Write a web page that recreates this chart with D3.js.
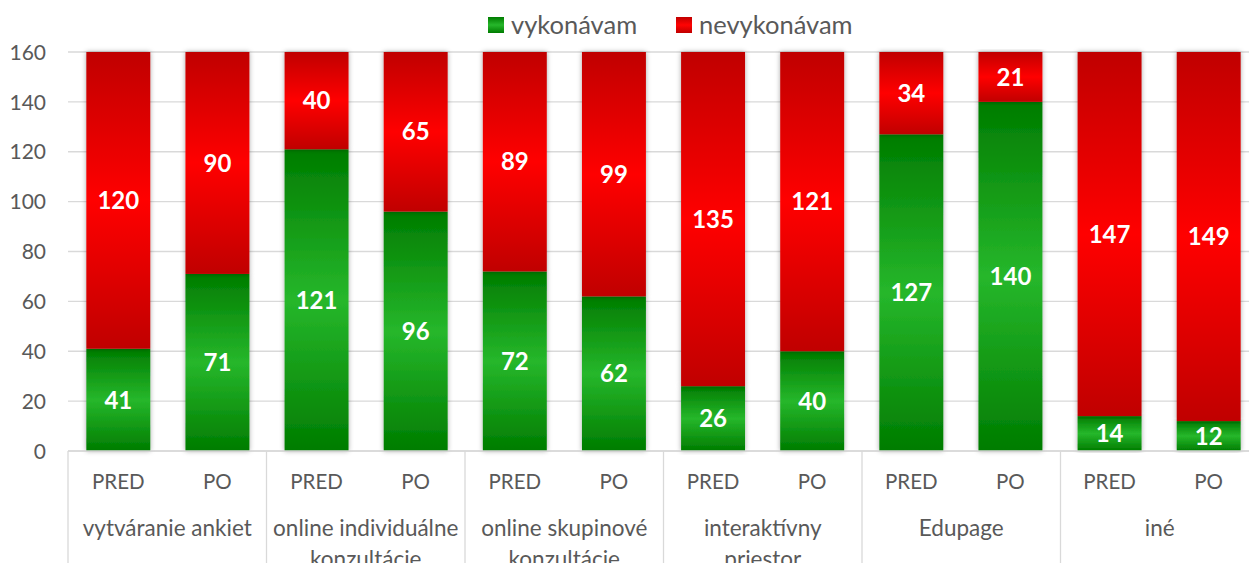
<!DOCTYPE html>
<html><head><meta charset="utf-8">
<script src="https://cdn.jsdelivr.net/npm/d3@7"></script>
<style>body{margin:0;background:#fff;}svg{display:block;font-family:Lato,"Open Sans",sans-serif;}</style>
</head><body>
<svg id="c" width="1249" height="563"></svg>
<script>
const groups = ["vytváranie ankiet", "online individuálne|konzultácie", "online skupinové|konzultácie", "interaktívny|priestor", "Edupage", "iné"];
const phases = ["PRED", "PO"];
const vykonavam = [41, 71, 121, 96, 72, 62, 26, 40, 127, 140, 14, 12];
const nevykonavam = [120, 90, 40, 65, 89, 99, 135, 121, 34, 21, 147, 149];
const yTicks = [0, 20, 40, 60, 80, 100, 120, 140, 160];
const seriesNames = ["vykonávam", "nevykonávam"];

(function(){
const svg = d3.select("#c");
const pLeft = 68, pRight = 1259, pTop = 52, pBottom = 451;
const defs = svg.append("defs");
function grad(id, dark, light){
  const g = defs.append("linearGradient").attr("id", id).attr("x1",0).attr("y1",0).attr("x2",0).attr("y2",1);
  g.append("stop").attr("offset","0%").attr("stop-color",dark);
  g.append("stop").attr("offset","50%").attr("stop-color",light);
  g.append("stop").attr("offset","100%").attr("stop-color",dark);
}
grad("gG", "#007c00", "#26b72b");
grad("gR", "#c00000", "#ff0303");
const f = defs.append("filter").attr("id","sh").attr("x","-20%").attr("y","-5%").attr("width","140%").attr("height","110%");
f.append("feDropShadow").attr("dx",0).attr("dy",0).attr("stdDeviation",2.5).attr("flood-color","#000").attr("flood-opacity",0.35);

const keys = d3.range(vykonavam.length);
const x = d3.scaleBand().domain(keys).range([pLeft, pRight]).paddingInner(0.355).paddingOuter(0.185);
const y = d3.scaleLinear().domain([0,160]).range([pBottom, pTop]).clamp(true);

svg.append("g").selectAll("line").data(yTicks).join("line")
  .attr("x1", pLeft).attr("x2", 1249).attr("y1", d=>y(d)).attr("y2", d=>y(d))
  .attr("stroke", "#d9d9d9").attr("stroke-width", 1.3);

const yAxis = d3.axisLeft(y).tickValues(yTicks).tickSize(0).tickPadding(0);
const ya = svg.append("g").attr("transform", `translate(46,0)`).call(yAxis);
ya.select(".domain").remove();
ya.selectAll("text").attr("font-size", 21).attr("fill", "#595959").attr("font-family","Lato,sans-serif").attr("dy","0.34em");

const segs = [];
keys.forEach(i=>{
  segs.push({i, y0:0, y1:vykonavam[i], v:vykonavam[i], s:0});
  segs.push({i, y0:vykonavam[i], y1:vykonavam[i]+nevykonavam[i], v:nevykonavam[i], s:1});
});
svg.append("g").selectAll("rect").data(segs).join("rect")
  .attr("x", d=>x(d.i)).attr("width", x.bandwidth())
  .attr("y", d=>y(d.y1)).attr("height", d=>y(d.y0)-y(d.y1))
  .attr("fill", d=> d.s===0 ? "url(#gG)" : "url(#gR)")
  .attr("filter","url(#sh)");
svg.append("g").selectAll("text").data(segs).join("text")
  .attr("x", d=>x(d.i)+x.bandwidth()/2)
  .attr("y", d=>(y(d.y0)+y(d.y1))/2)
  .attr("dy","0.36em").attr("text-anchor","middle")
  .attr("font-size", 24).attr("font-weight","bold").attr("fill","#fff")
  .text(d=>d.v);

svg.append("line").attr("x1", pLeft).attr("x2", 1249).attr("y1", pBottom).attr("y2", pBottom).attr("stroke","#d9d9d9").attr("stroke-width",1.3);
const gx = d3.scaleBand().domain(d3.range(groups.length)).range([pLeft, pRight]);
svg.append("g").selectAll("line").data(d3.range(groups.length)).join("line")
  .attr("x1", d=>gx(d)).attr("x2", d=>gx(d)).attr("y1", pBottom).attr("y2", 563)
  .attr("stroke","#d9d9d9").attr("stroke-width",1.3);
svg.append("g").selectAll("text").data(keys).join("text")
  .attr("x", d=>x(d)+x.bandwidth()/2).attr("y", 482).attr("dy","0.35em")
  .attr("text-anchor","middle").attr("font-size",20.5).attr("fill","#595959")
  .text(d=>phases[d%2]);
const gl = svg.append("g").selectAll("text").data(groups).join("text")
  .attr("x", (d,i)=>gx(i)+gx.bandwidth()/2).attr("y", 528)
  .attr("text-anchor","middle").attr("font-size",22.5).attr("fill","#595959");
gl.selectAll("tspan").data(d=>d.split("|")).join("tspan")
  .attr("x", function(){return this.parentNode.getAttribute("x");})
  .attr("dy", (d,i)=> i===0 ? "0.35em" : "1.38em")
  .text(d=>d);

const leg = svg.append("g");
const lg = [{n:seriesNames[0], f:"url(#gG)", x:488}, {n:seriesNames[1], f:"url(#gR)", x:676}];
lg.forEach(d=>{
  leg.append("rect").attr("x", d.x).attr("y", 17).attr("width", 16).attr("height", 16).attr("fill", d.f);
  leg.append("text").attr("x", d.x+23).attr("y", 25).attr("dy","0.35em").attr("font-size",25.5).attr("fill","#595959").text(d.n);
});
})();
</script>
</body></html>
